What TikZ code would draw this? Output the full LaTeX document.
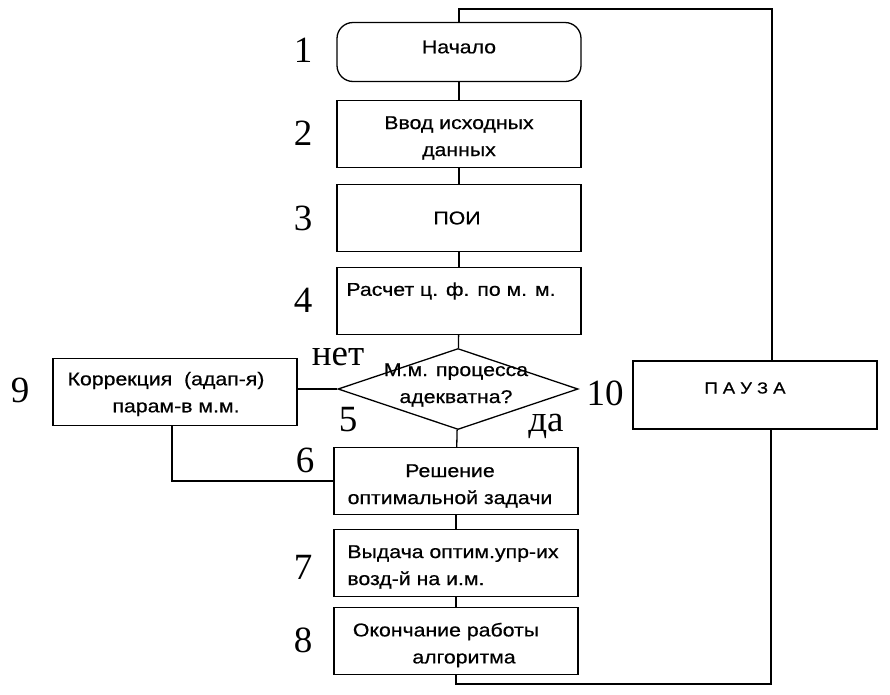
\documentclass[tikz,border=0pt]{standalone}
\usepackage{fontspec}
\setmainfont{Liberation Sans}[FakeStretch=1.15, FakeBold=0.6]
\newfontfamily\numfont{Liberation Serif}
\usetikzlibrary{shapes.geometric}

\begin{document}
\begin{tikzpicture}[
						x=1pt,
						y=-1pt,
						line width=1.3pt,
						every node/.style={font=\fontsize{18.5}{27}\selectfont},
						block/.style={draw, minimum width=244pt, minimum height=67pt, inner sep=0pt},
						startblock/.style={block, rounded corners=16pt, minimum height=59pt},
						decision/.style={draw, diamond, aspect=3, minimum width=240pt, minimum height=81pt, inner sep=0pt},
						num/.style={font=\numfont\fontsize{37}{37}\selectfont, inner sep=0pt}
					]
					\useasboundingbox (0,0) rectangle (890,694);
					% main column
					\node[startblock] (b1) at (459,52) {};
					\node at (459,47) {Начало};
					\node[block] (b2) at (459,134) {};
					\node[align=center] at (459,138) {Ввод исходных\\данных};
					\node[block] (b3) at (459,218) {};
					\node at (457,218) {ПОИ};
					\node[block] (b4) at (459,301) {};
					\node at (451,291) {Расчет ц. ф. по м. м.};
					\node[decision] (d5) at (458,389) {};
					\node[align=center] at (456,385) {М.м. процесса\\адекватна?};
					\node[block] (b6) at (456,481) {};
					\node[align=center] at (450,486) {Решение\\оптимальной задачи};
					\node[block] (b7) at (456,563) {};
					\node[align=left] at (453,567) {Выдача оптим.упр-их\\возд-й на и.м.};
					\node[block] (b8) at (456,641) {};
					\node[align=center] at (446,645) {Окончание работы\\\hspace*{36pt}алгоритма};
					% side blocks
					\node[block] (b9) at (175,392) {};
					\node[align=center] at (166,394) {Коррекция\ \ (адап-я)\\\hspace*{20pt}парам-в м.м.};
					\node[block, minimum height=68pt] (b10) at (755,395) {};
					\node[font=\fontsize{16}{16}\selectfont] at (745,388) {П А У З А};
					% numbers
					\node[num] at (303,50) {1};
					\node[num] at (303,133) {2};
					\node[num] at (303,218) {3};
					\node[num] at (303,300) {4};
					\node[num] at (348,420) {5};
					\node[num] at (305,460) {6};
					\node[num] at (303,567) {7};
					\node[num] at (303,640) {8};
					\node[num] at (20,390) {9};
					\node[num] at (605,393) {10};
					\node[num] at (338,357) {нет};
					\node[num] at (546,426) {да};
					% connectors
					\coordinate (topR) at (772,9);
					\coordinate (botR) at (771,684);
					\draw (b1) -- (b2);
					\draw (b2) -- (b3);
					\draw (b3) -- (b4);
					\draw (b4) -- (d5);
					\draw (d5) -- (b6);
					\draw (b6) -- (b7);
					\draw (b7) -- (b8);
					\draw (d5.west) -- (b9.east |- d5.west);
					\draw (b9.south -| 172,0) |- (b6.west);
					\draw (b1.north) |- (topR) -- (topR |- b10.north);
					\draw (b8.south) |- (botR) -- (botR |- b10.south);
				\end{tikzpicture}
\end{document}
